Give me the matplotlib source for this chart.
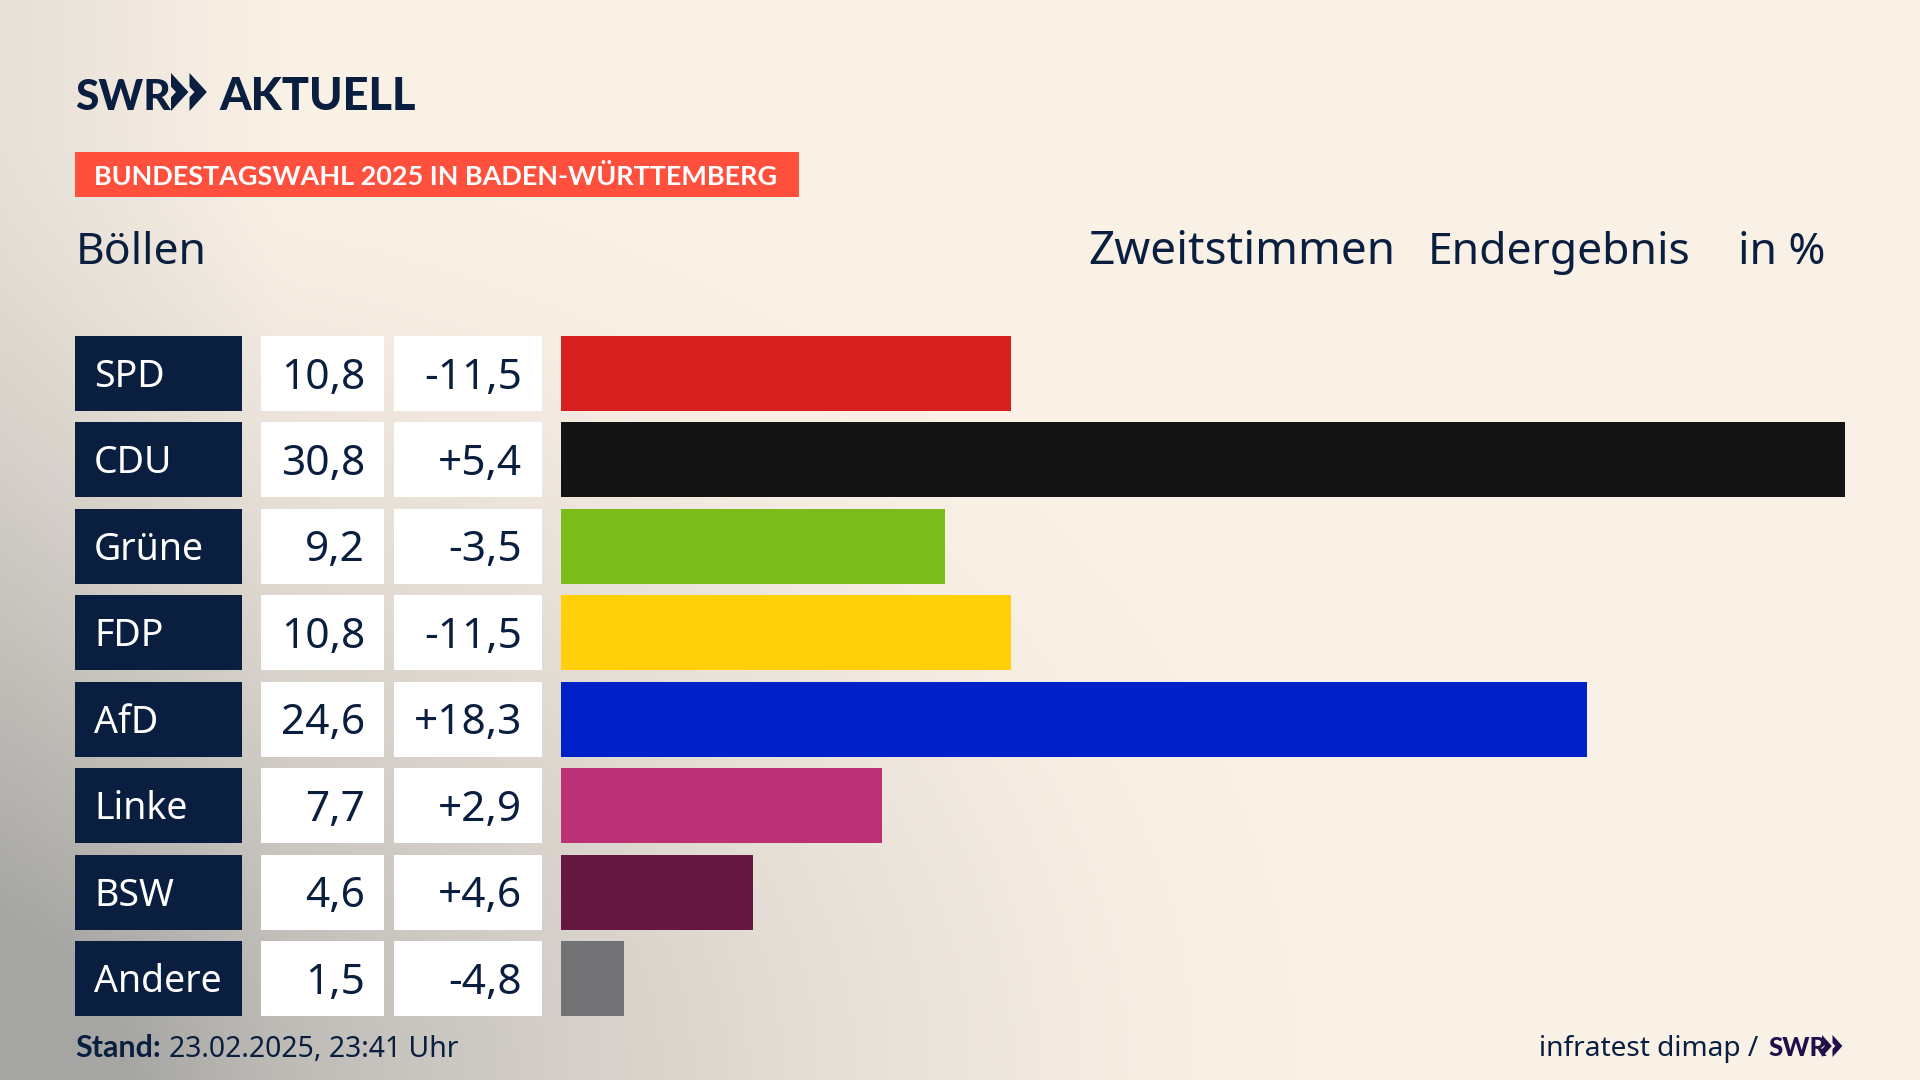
"""SWR election result chart: Zweitstimmen in Böllen."""

import matplotlib

matplotlib.use("Agg")
import matplotlib.pyplot as plt
import numpy as np
from matplotlib.patches import Polygon, Rectangle

parties = ["SPD", "CDU", "Grüne", "FDP", "AfD", "Linke", "BSW", "Andere"]
results = [10.8, 30.8, 9.2, 10.8, 24.6, 7.7, 4.6, 1.5]
changes = ["-11,5", "+5,4", "-3,5", "-11,5", "+18,3", "+2,9", "+4,6", "-4,8"]
party_colors = ["#D81F1F", "#141414", "#7ABD1A", "#FFCF0A", "#0021C8", "#BC3075", "#66173F", "#727274"]

NAVY = "#0A1F3F"
CREAM = np.array([250, 241, 230]) / 255
GREY = np.array([165, 165, 163]) / 255
W, H = 1920, 1080
ROW_TOP, ROW_H, ROW_PITCH = 336, 75, 86.43
FONT = "Noto Sans"
BOLD = "Lato"

fig = plt.figure(figsize=(W / 100, H / 100), dpi=100)

# full figure axes in pixel coordinates, for background, table cells and text
ax = fig.add_axes([0, 0, 1, 1])
ax.set_xlim(0, W)
ax.set_ylim(H, 0)
ax.axis("off")

# soft grey shade from the bottom left corner
xx, yy = np.meshgrid(np.linspace(0, W, 480), np.linspace(0, H, 270))
dist = np.sqrt((xx / 1300) ** 2 + ((H - yy) / 950) ** 2)
shade = np.clip(1 - dist, 0, 1) ** 1.4 + 0.22 * np.clip(1 - xx / 280, 0, 1)
shade = np.clip(shade, 0, 1)[..., None]
ax.imshow(CREAM * (1 - shade) + GREY * shade, extent=(0, W, H, 0), aspect="auto", zorder=0)


def chevrons(x, top, bottom, width, color):
    """Draw the double arrow of the SWR logo."""
    mid = (top + bottom) / 2
    w = width / 2
    h = bottom - top
    for off in (0, w):
        pts = [
            (x + off, top),
            (x + off + w * 0.94, mid),
            (x + off, bottom),
            (x + off, bottom - h * 0.36),
            (x + off + w * 0.27, mid),
            (x + off, top + h * 0.36),
        ]
        ax.add_patch(Polygon(pts, closed=True, color=color, lw=0, zorder=3))


# logo
ax.text(75, 110, "SWR", fontsize=30.5, fontweight="black", family=BOLD, color=NAVY, va="baseline")
chevrons(171, 73, 111, 37, NAVY)
ax.text(219, 110, "AKTUELL", fontsize=32.5, fontweight="black", family=BOLD, color=NAVY, va="baseline")

# red tag
ax.add_patch(Rectangle((75, 152), 724, 45, color="#FF4F3D", lw=0, zorder=2))
ax.text(94, 185, "BUNDESTAGSWAHL 2025 IN BADEN-WÜRTTEMBERG", fontsize=19.45, fontweight="bold",
        family=BOLD, color="white", va="baseline", zorder=3)

# header line
ax.text(76, 264, "Böllen", fontsize=32, family=FONT, color=NAVY, va="baseline")
ax.text(1088, 264, "Zweitstimmen", fontsize=33, family=FONT, color=NAVY, va="baseline")
ax.text(1428, 264, "Endergebnis", fontsize=32, family=FONT, color=NAVY, va="baseline")
ax.text(1738, 264, "in %", fontsize=32, family=FONT, color=NAVY, va="baseline")

# table columns
for i, (party, res, chg) in enumerate(zip(parties, results, changes)):
    top = ROW_TOP + i * ROW_PITCH
    mid = top + ROW_H / 2
    ax.add_patch(Rectangle((75, top), 167, ROW_H, color=NAVY, lw=0, zorder=2))
    ax.add_patch(Rectangle((261, top), 123, ROW_H, color="white", lw=0, zorder=2))
    ax.add_patch(Rectangle((394, top), 148, ROW_H, color="white", lw=0, zorder=2))
    ax.text(94, mid + 13.5, party, fontsize=27, family=FONT, color="white", va="baseline", zorder=3)
    ax.text(365, mid + 15, f"{res:.1f}".replace(".", ","), fontsize=30.5, family=FONT, color=NAVY,
            ha="right", va="baseline", zorder=3)
    ax.text(522, mid + 15, chg, fontsize=30.5, family=FONT, color=NAVY, ha="right", va="baseline", zorder=3)

# bars, on their own axes so the value scale does the work
bar_top = ROW_TOP + ROW_H / 2 - ROW_PITCH / 2
bar_h = ROW_PITCH * len(parties)
bax = fig.add_axes([561 / W, 1 - (bar_top + bar_h) / H, (1845 - 561) / W, bar_h / H])
bax.barh(range(len(parties)), results, height=ROW_H / ROW_PITCH, color=party_colors)
bax.set_xlim(0, max(results))
bax.set_ylim(len(parties) - 0.5, -0.5)
bax.axis("off")

# footer
ax.text(75, 1057, "Stand:", fontsize=22, fontweight="bold", family=BOLD, color=NAVY, va="baseline")
ax.text(169, 1057, "23.02.2025, 23:41 Uhr", fontsize=20.4, family=FONT, color=NAVY, va="baseline")
ax.text(1539, 1056, "infratest dimap /", fontsize=20.2, family=FONT, color=NAVY, va="baseline")
ax.text(1768, 1056, "SWR", fontsize=18.5, fontweight="black", family=BOLD, color="#20104A", va="baseline")
chevrons(1822, 1035, 1057, 21, "#20104A")

fig.savefig("out.png", dpi=100)
